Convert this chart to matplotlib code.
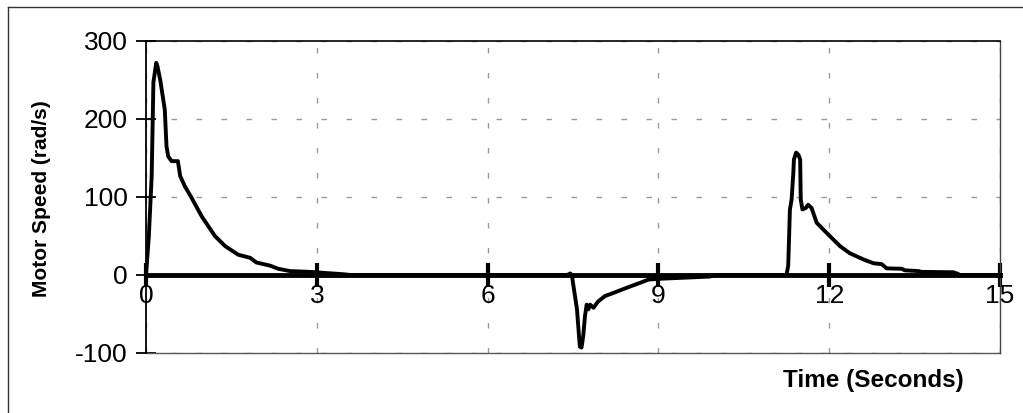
import matplotlib
matplotlib.use('Agg')
import matplotlib.pyplot as plt
from matplotlib.lines import Line2D

plt.rcParams['font.family'] = ['Liberation Sans', 'DejaVu Sans']
plt.rcParams['axes.unicode_minus'] = False

# motor speed trace (seconds, rad/s)
time_s = [0, 0.05, 0.10, 0.13, 0.18, 0.20, 0.25, 0.33, 0.36, 0.39, 0.45, 0.56, 0.60,
          0.68, 0.80, 0.98, 1.21, 1.39, 1.62, 1.83, 1.94, 2.18, 2.32, 2.53, 2.88, 3.46, 3.60,
          7.40, 7.45, 7.48, 7.51, 7.57, 7.62, 7.65, 7.68, 7.71, 7.74, 7.77, 7.80, 7.86,
          7.94, 8.06, 8.21, 8.35, 8.53, 8.68, 8.82, 8.97, 9.90, 10.0,
          11.25, 11.28, 11.31, 11.34, 11.37, 11.38, 11.42, 11.46, 11.49, 11.50, 11.53,
          11.59, 11.63, 11.69, 11.78, 11.90, 12.01, 12.19, 12.36, 12.60, 12.78, 12.92,
          13.01, 13.27, 13.33, 13.57, 13.62, 14.18, 14.24, 14.30, 15.0]
speed = [0, 50, 127, 247, 272, 268, 250, 212, 165, 152, 146, 146, 127,
         114, 99, 75, 50, 37, 26, 22, 16, 12, 8, 5, 4, 1, 0,
         0, 2, 0, -15, -44, -92, -93, -78, -53, -38, -44, -38, -42,
         -34, -27, -23, -19, -14, -10, -6, -5, -2, 0,
         0, 12, 84, 97, 131, 148, 157, 154, 148, 97, 84,
         86, 90, 86, 67, 58, 50, 37, 28, 20, 15, 14,
         8.5, 8, 6, 5, 4, 3.5, 2, 0, 0]

x_ticks = [0, 3, 6, 9, 12, 15]
y_ticks = [-100, 0, 100, 200, 300]

fig = plt.figure(figsize=(10.23, 4.13), dpi=100)
ax = fig.add_axes([146 / 1023, 60 / 413, 854 / 1023, 312 / 413])

ax.set_xlim(0, 15)
ax.set_ylim(-100, 300)
ax.set_xticks(x_ticks)
ax.set_yticks(y_ticks)

ax.grid(True, color='#999999', linestyle=(0, (4, 14)), linewidth=1)
ax.set_axisbelow(True)

ax.plot(time_s, speed, color='black', linewidth=2.8, solid_joinstyle='round', zorder=4)

# x axis sits at zero, frame drawn around the plot area
ax.spines['bottom'].set_position(('data', 0))
ax.spines['bottom'].set_linewidth(3.5)
ax.spines['bottom'].set_zorder(3)
ax.spines['left'].set_linewidth(1.3)
ax.spines['top'].set_linewidth(1.2)
ax.spines['right'].set_color('#444444')
ax.spines['right'].set_linewidth(1)
ax.add_line(Line2D([0, 1], [0, 0], transform=ax.transAxes, color='#555555',
                   linewidth=1, clip_on=False))

ax.tick_params(axis='x', direction='inout', length=17, width=3, pad=-2, labelsize=19)
ax.tick_params(axis='y', direction='inout', length=14, width=1.3, pad=6, labelsize=19)

fig.text(873 / 1023, 1 - 381 / 413, 'Time (Seconds)', fontsize=17.5, fontweight='bold',
         ha='center', va='center')
fig.text(42 / 1023, 1 - 199 / 413, 'Motor Speed (rad/s)', fontsize=15, fontweight='bold',
         ha='center', va='center', rotation=90)

# outer chart border
fig.add_artist(Line2D([8 / 1023, 8 / 1023], [0, 1 - 7 / 413], transform=fig.transFigure,
                      color='#333333', linewidth=1))
fig.add_artist(Line2D([8 / 1023, 1], [1 - 7 / 413, 1 - 7 / 413], transform=fig.transFigure,
                      color='#333333', linewidth=1))

fig.savefig('out.png', dpi=100)
